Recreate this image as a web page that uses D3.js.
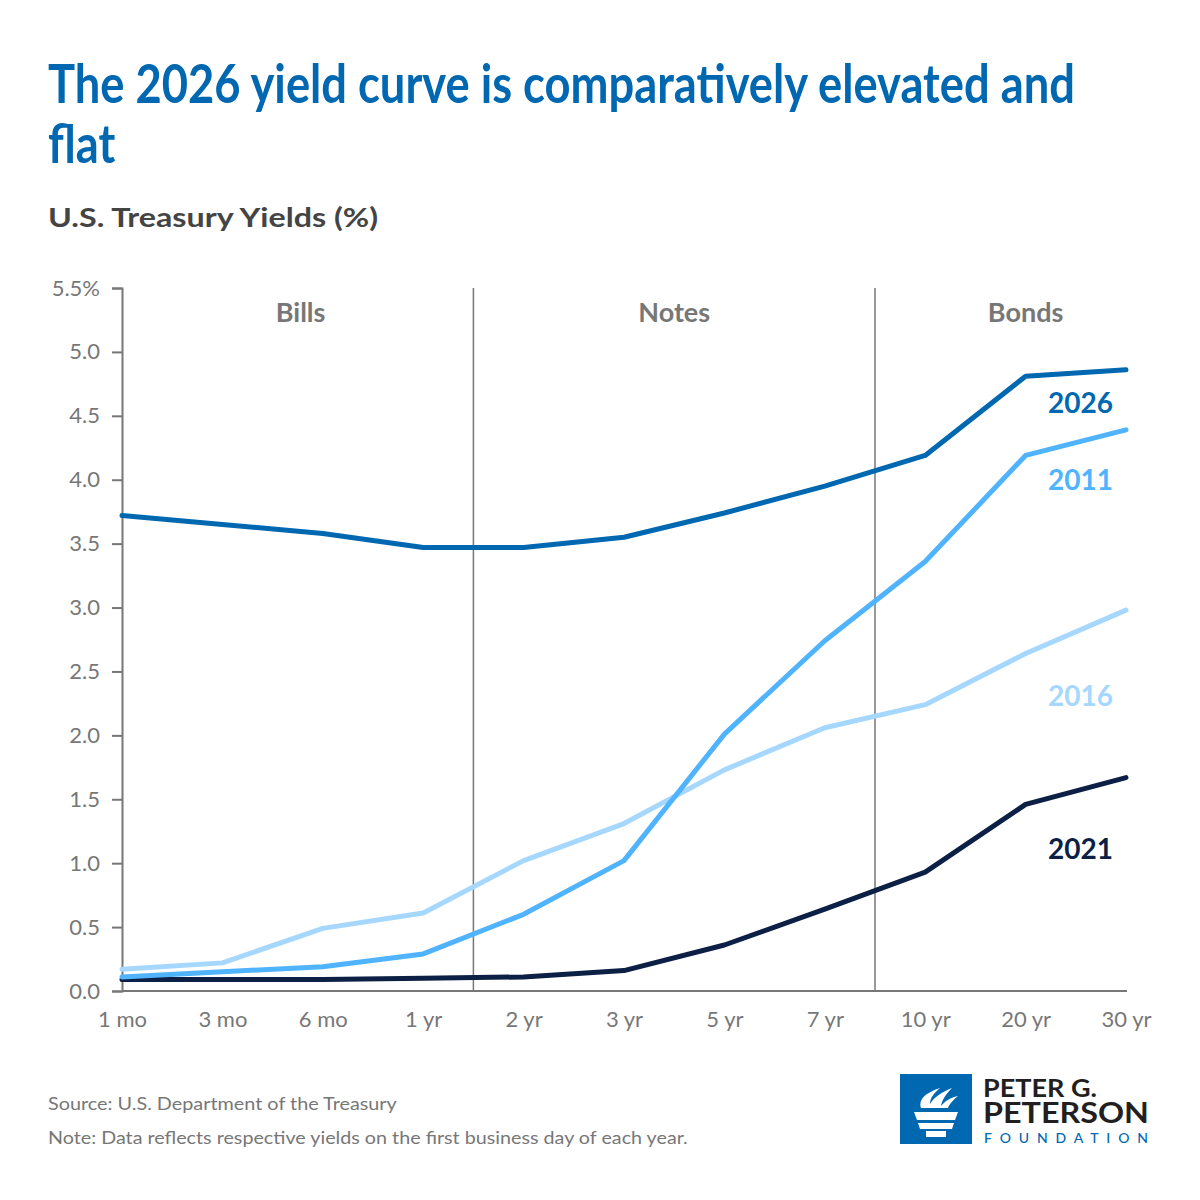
<!DOCTYPE html>
<html><head><meta charset="utf-8">
<script src="https://cdn.jsdelivr.net/npm/d3@7"></script>
<style>body{margin:0;background:#fff}svg{display:block}text{font-family:Lato,"Open Sans",sans-serif}</style>
</head><body>
<svg id="c" width="1200" height="1200"></svg>
<script>
const categories = ["1 mo","3 mo","6 mo","1 yr","2 yr","3 yr","5 yr","7 yr","10 yr","20 yr","30 yr"];
const y2026 = [3.72,3.65,3.58,3.47,3.47,3.55,3.74,3.95,4.19,4.81,4.86];
const y2011 = [0.11,0.15,0.19,0.29,0.60,1.02,2.01,2.74,3.36,4.19,4.39];
const y2016 = [0.17,0.22,0.49,0.61,1.02,1.31,1.73,2.06,2.24,2.64,2.98];
const y2021 = [0.09,0.09,0.09,0.10,0.11,0.16,0.36,0.64,0.93,1.46,1.67];
const yTicks = [0,0.5,1,1.5,2,2.5,3,3.5,4,4.5,5,5.5];
const sections = ["Bills","Notes","Bonds"];
const series = [
  {name:"2021",values:y2021,color:"#0c1f45",labelY:1.03},
  {name:"2016",values:y2016,color:"#a5d7ff",labelY:2.23},
  {name:"2011",values:y2011,color:"#4fb3fd",labelY:3.92},
  {name:"2026",values:y2026,color:"#0067b1",labelY:4.52}
];

const svg = d3.select("#c");
const gray = "#777";
const x = d3.scalePoint().domain(categories).range([122,1126]);
const y = d3.scaleLinear().domain([0,5.5]).range([991,288]);

function fitText(sel, x0, targetW){
  const w = sel.node().getComputedTextLength();
  const s = targetW / w;
  sel.attr("x",0).attr("transform",`translate(${x0},${sel.attr("y")}) scale(${s},1)`).attr("y",0);
  return sel;
}

// Title: one text, two lines, scaled horizontally to match condensed face
const title = svg.append("text").attr("fill","#0067b1")
  .attr("font-family","Roboto, sans-serif").attr("font-weight",700).attr("font-size",53);
const t1 = title.append("tspan").attr("x",0).attr("y",0).text("The 2026 yield curve is comparatively elevated and");
title.append("tspan").attr("x",0).attr("y",60).text("flat");
const ts = 1027 / t1.node().getComputedTextLength();
title.attr("transform",`translate(48,103) scale(${ts},1)`);

fitText(svg.append("text").attr("y",227).attr("fill","#444")
  .attr("font-weight",700).attr("font-size",27)
  .text("U.S. Treasury Yields (%)"), 48, 330);

// Y axis
const yAxis = svg.append("g").attr("transform","translate(122,0)")
  .call(d3.axisLeft(y).tickValues(yTicks).tickSize(10).tickPadding(12)
    .tickFormat(d => d===5.5 ? "5.5%" : d3.format(".1f")(d)));
yAxis.select(".domain").attr("stroke",gray).attr("stroke-width",2);
yAxis.selectAll(".tick line").attr("stroke",gray).attr("stroke-width",2);
yAxis.selectAll(".tick text").attr("fill",gray).attr("font-size",22).attr("font-family","Lato, sans-serif");

// X axis
const xAxis = svg.append("g").attr("transform","translate(0,991)")
  .call(d3.axisBottom(x).tickSize(0).tickPadding(20));
xAxis.select(".domain").attr("stroke",gray).attr("stroke-width",2).attr("d","M122,0H1127");
xAxis.selectAll(".tick text").attr("fill",gray).attr("font-size",22).attr("font-family","Lato, sans-serif");

// Section dividers and labels
[["1 yr","2 yr"],["7 yr","10 yr"]].forEach(([a,b])=>{
  const xm = (x(a)+x(b))/2;
  svg.append("line").attr("x1",xm).attr("x2",xm).attr("y1",288).attr("y2",991)
    .attr("stroke",gray).attr("stroke-width",1.5);
});
const sectionX = [(x("3 mo")+x("6 mo"))/2 + 28, (x("3 yr")+x("5 yr"))/2, x("20 yr")];
sections.forEach((s,i)=>{
  svg.append("text").attr("x",sectionX[i]).attr("y",322)
    .attr("text-anchor","middle").attr("fill",gray).attr("font-weight",700).attr("font-size",27)
    .text(s);
});

// Lines
const line = d3.line().x((d,i)=>x(categories[i])).y(d=>y(d));
series.forEach(s=>{
  svg.append("path").datum(s.values).attr("d",line).attr("fill","none")
    .attr("stroke",s.color).attr("stroke-width",5).attr("stroke-linejoin","round").attr("stroke-linecap","round");
});
series.forEach(s=>{
  svg.append("text").attr("x",1113).attr("y",y(s.labelY)).attr("text-anchor","end")
    .attr("fill",s.color).attr("font-weight",700).attr("font-size",28).text(s.name);
});

// Footer
fitText(svg.append("text").attr("y",1110).attr("fill",gray).attr("font-size",18)
  .text("Source: U.S. Department of the Treasury"), 48, 349);
fitText(svg.append("text").attr("y",1144).attr("fill",gray).attr("font-size",18)
  .text("Note: Data reflects respective yields on the first business day of each year."), 48, 640);

// Logo
const logo = svg.append("g");
logo.append("rect").attr("x",900).attr("y",1074).attr("width",72).attr("height",70).attr("fill","#0067b1");
logo.append("path").attr("fill","#fff")
  .attr("d","M921,1108 C918,1098 928,1092 940,1088 C934,1093 930,1098 930,1104 C934,1097 942,1092 952,1088 C946,1094 942,1100 941,1106 C946,1100 952,1097 958,1096 C952,1101 949,1105 948,1108 Z");
logo.append("path").attr("fill","#fff").attr("d","M914,1112 H958 L955,1120 H917 Z");
logo.append("path").attr("fill","#fff").attr("d","M918,1123 H954 L952,1129 H920 Z");
logo.append("path").attr("fill","#fff").attr("d","M926,1131 H946 V1137 H926 Z");
const word = logo.append("text").attr("fill","#231f20").attr("font-family","Roboto, sans-serif").attr("font-weight",700);
word.append("tspan").attr("x",983).attr("y",1097).attr("font-size",25)
  .attr("textLength",114).attr("lengthAdjust","spacingAndGlyphs").text("PETER G.");
word.append("tspan").attr("x",983).attr("y",1123).attr("font-size",28)
  .attr("textLength",166).attr("lengthAdjust","spacingAndGlyphs").text("PETERSON");
logo.append("text").attr("x",984).attr("y",1143).attr("fill","#0067b1").attr("font-family","Roboto, sans-serif")
  .attr("font-weight",500).attr("font-size",14).attr("textLength",164).attr("lengthAdjust","spacing").text("FOUNDATION");
</script>
</body></html>
